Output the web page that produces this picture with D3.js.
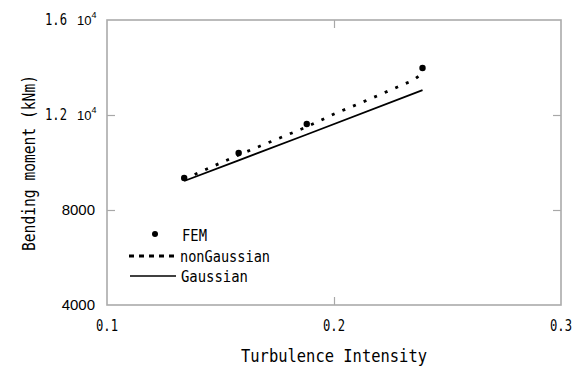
<!DOCTYPE html>
<html>
<head>
<meta charset="utf-8">
<script src="https://cdn.jsdelivr.net/npm/d3@7"></script>
<style>
body { margin: 0; background: #fff; }
text { fill: #000; }
</style>
</head>
<body>
<svg id="svg" width="580" height="367"></svg>
<script>
// values
var femX = [0.134, 0.158, 0.188, 0.239];
var femY = [9350, 10400, 11620, 13980];

var nonGaussX = [0.134, 0.158, 0.188, 0.200, 0.215, 0.235, 0.239];
var nonGaussY = [9300, 10320, 11500, 12040, 12640, 13470, 13760];

var gaussX = [0.134, 0.158, 0.188, 0.239];
var gaussY = [9220, 10090, 11180, 13050];

var xTicks = [0.1, 0.2, 0.3];
var xTickLabels = ["0.1", "0.2", "0.3"];
var yTicks = [4000, 8000, 12000, 16000];
var yTickLabels = [["4000"], ["8000"], ["1.2", "4"], ["1.6", "4"]];

var gothic = "'DejaVu Sans Mono', monospace";
var arial = "'Liberation Sans', Arial, sans-serif";

var svg = d3.select("#svg");
var x = d3.scaleLinear().domain([0.1, 0.3]).range([107, 561]);
var y = d3.scaleLinear().domain([4000, 16000]).range([305, 20]);

var frame = svg.append("g");

// inner ticks on all four sides
frame.append("g").attr("transform", "translate(0,305)")
    .call(d3.axisBottom(x).tickValues([0.2]).tickSize(-8).tickFormat(""));
frame.append("g").attr("transform", "translate(0,20)")
    .call(d3.axisTop(x).tickValues([0.2]).tickSize(-8).tickFormat(""));
frame.append("g").attr("transform", "translate(107,0)")
    .call(d3.axisLeft(y).tickValues([8000, 12000]).tickSize(-8).tickFormat(""));
frame.append("g").attr("transform", "translate(561,0)")
    .call(d3.axisRight(y).tickValues([8000, 12000]).tickSize(-8).tickFormat(""));
frame.selectAll(".domain").remove();
frame.selectAll(".tick line").attr("stroke", "#a8a8a8").attr("stroke-width", 1.2);

frame.append("rect")
    .attr("x", x(0.1)).attr("y", y(16000))
    .attr("width", x(0.3) - x(0.1)).attr("height", y(4000) - y(16000))
    .attr("fill", "none").attr("stroke", "#ababab").attr("stroke-width", 1.6);

// x tick labels
svg.selectAll(".xl").data(xTicks).enter().append("text")
    .attr("x", function(d) { return x(d); })
    .attr("y", 331)
    .attr("text-anchor", "middle")
    .attr("font-family", gothic)
    .attr("font-size", 16)
    .attr("textLength", 22).attr("lengthAdjust", "spacingAndGlyphs")
    .text(function(d, i) { return xTickLabels[i]; });

// y tick labels
yTicks.forEach(function(d, i) {
    var lab = yTickLabels[i];
    var yy = y(d) + 5;
    if (lab.length == 1) {
        svg.append("text")
            .attr("x", 95).attr("y", yy)
            .attr("text-anchor", "end")
            .attr("font-family", arial).attr("font-size", 15)
            .text(lab[0]);
    } else {
        svg.append("text")
            .attr("x", 45).attr("y", yy)
            .attr("font-family", gothic).attr("font-size", 15)
            .attr("textLength", 22).attr("lengthAdjust", "spacingAndGlyphs")
            .text(lab[0]);
        var p = svg.append("text")
            .attr("x", 77).attr("y", yy)
            .attr("font-family", arial).attr("font-size", 13);
        p.append("tspan").text("10");
        p.append("tspan").attr("font-size", 9).attr("dy", -7).text(lab[1]);
    }
});

// axis titles
svg.append("text")
    .attr("x", 334).attr("y", 362)
    .attr("text-anchor", "middle")
    .attr("font-family", gothic)
    .attr("font-size", 17)
    .attr("textLength", 186).attr("lengthAdjust", "spacingAndGlyphs")
    .text("Turbulence Intensity");

svg.append("text")
    .attr("transform", "translate(35,163) rotate(-90)")
    .attr("text-anchor", "middle")
    .attr("font-family", gothic)
    .attr("font-size", 17)
    .attr("textLength", 176).attr("lengthAdjust", "spacingAndGlyphs")
    .text("Bending moment (kNm)");

// series
var line = d3.line().x(function(d) { return x(d[0]); }).y(function(d) { return y(d[1]); });

svg.append("path")
    .datum(d3.zip(gaussX, gaussY))
    .attr("d", line)
    .attr("fill", "none").attr("stroke", "#000").attr("stroke-width", 1.8);

svg.append("path")
    .datum(d3.zip(nonGaussX, nonGaussY))
    .attr("d", line)
    .attr("fill", "none").attr("stroke", "#000").attr("stroke-width", 2.8)
    .attr("stroke-dasharray", "3,8.5");

svg.selectAll("circle.fem").data(d3.zip(femX, femY)).enter().append("circle")
    .attr("class", "fem")
    .attr("cx", function(d) { return x(d[0]); })
    .attr("cy", function(d) { return y(d[1]); })
    .attr("r", 3.2)
    .attr("fill", "#000");

// legend
var leg = svg.append("g");
leg.append("circle").attr("cx", 155).attr("cy", 234).attr("r", 3).attr("fill", "#000");
leg.append("line").attr("x1", 129).attr("x2", 178).attr("y1", 256).attr("y2", 256)
    .attr("stroke", "#000").attr("stroke-width", 2.8).attr("stroke-dasharray", "5,5");
leg.append("line").attr("x1", 130).attr("x2", 176).attr("y1", 276).attr("y2", 276)
    .attr("stroke", "#000").attr("stroke-width", 1.5);
var legNames = ["FEM", "nonGaussian", "Gaussian"];
var legX = [182, 180, 181];
var legY = [241, 262, 282];
var legW = [25, 90, 67];
legNames.forEach(function(n, i) {
    leg.append("text")
        .attr("x", legX[i]).attr("y", legY[i])
        .attr("font-family", gothic).attr("font-size", 15)
        .attr("textLength", legW[i]).attr("lengthAdjust", "spacingAndGlyphs")
        .text(n);
});
</script>
</body>
</html>
